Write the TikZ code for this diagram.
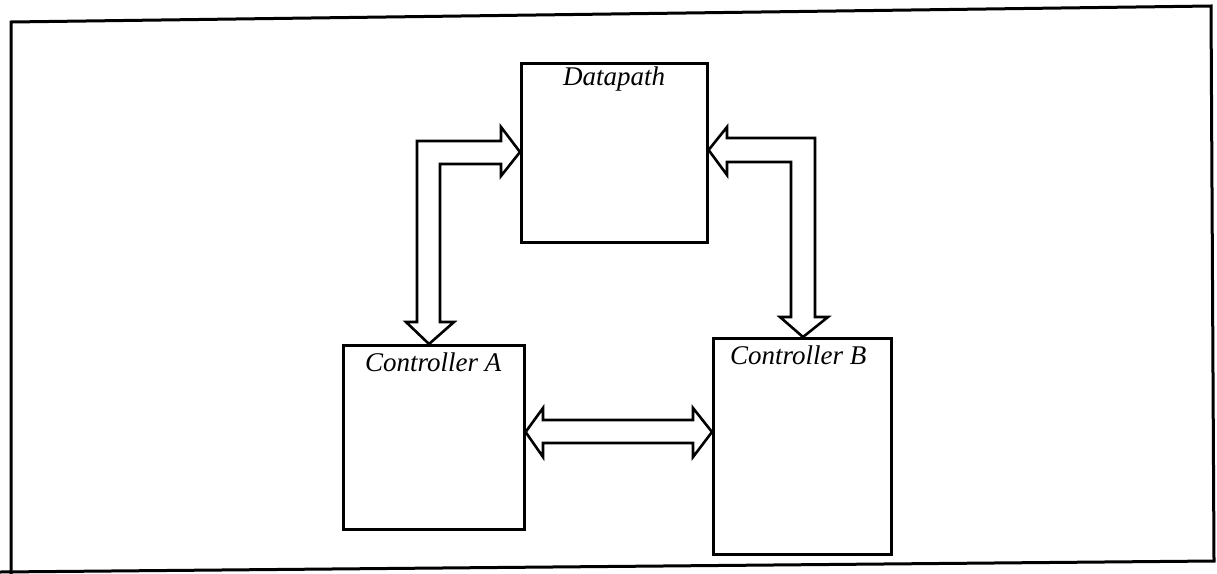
\documentclass[tikz,border=0pt]{standalone}
\usepackage{fontspec}
\setmainfont{Liberation Serif}
\usetikzlibrary{calc}
\begin{document}
\begin{tikzpicture}[x=1pt,y=-1pt,
  blockbox/.style={draw, line width=2.6pt, rectangle, anchor=north west, inner sep=0pt},
  fatarrow/.style={draw, line width=2.6pt, line join=miter, fill=white},
  blocklabel/.style={anchor=base west, inner sep=0pt, font=\fontsize{27}{30}\selectfont\itshape},
  frameline/.style={draw, line width=3pt, line join=miter}]
\useasboundingbox (0,0) rectangle (1217,573);

% outer frame
\draw[frameline] (11,580) -- (11,22) -- (1211,6) -- (1214,561) -- (0,572);

% blocks
\node[blockbox, minimum width=186pt, minimum height=179pt] (dp) at (520,62) {};
\node[blockbox, minimum width=181pt, minimum height=184pt] (ca) at (342,344) {};
\node[blockbox, minimum width=178pt, minimum height=216pt] (cb) at (712,337) {};

% block titles
\node[blocklabel] (dpl) at (563,85) {Datapath};
\node[blocklabel] (cal) at (365,371) {Controller A};
\node[blocklabel] (cbl) at (730,364) {Controller B};

% bus between datapath and controller A
\coordinate (ta) at (dp.west |- 0,152);
\coordinate (ba) at (ca.north -| 429,0);
\draw[fatarrow] (ta) -- (501,176) -- (501,164) -- (440,164) -- (440,322) -- (454,322)
  -- (ba) -- (406,322) -- (417,322) -- (417,141) -- (501,141) -- (501,127) -- cycle;

% bus between datapath and controller B
\coordinate (tb) at (dp.east |- 0,150);
\coordinate (bb) at (cb.north -| 803,0);
\draw[fatarrow] (tb) -- (727,127) -- (727,138) -- (815,138) -- (815,317) -- (828,317)
  -- (bb) -- (780,317) -- (791,317) -- (791,162) -- (727,162) -- (727,175) -- cycle;

% bus between the two controllers
\coordinate (la) at (ca.east |- 0,432);
\coordinate (rb) at (cb.west |- 0,432);
\draw[fatarrow] (la) -- (543,408) -- (543,420) -- (693,420) -- (693,408) -- (rb)
  -- (693,457) -- (693,443) -- (543,443) -- (543,457) -- cycle;
\end{tikzpicture}
\end{document}
